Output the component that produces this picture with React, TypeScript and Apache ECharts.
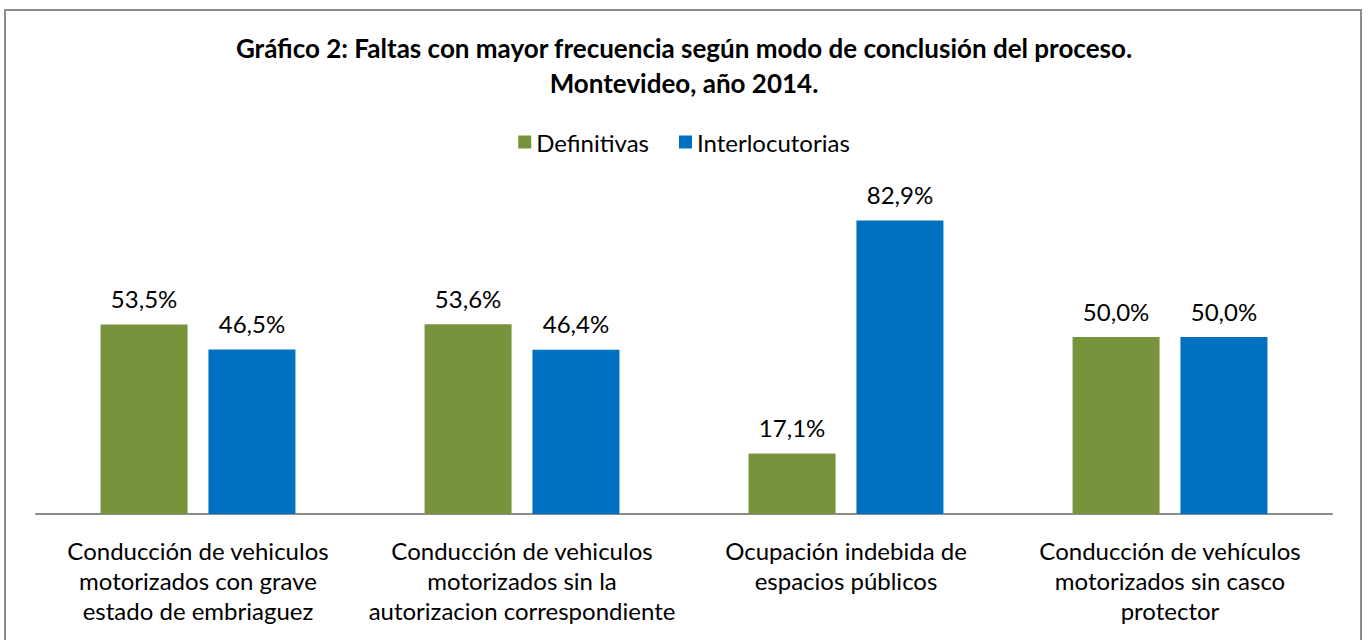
import React, { useEffect, useRef } from "react";
import * as echarts from "echarts";

const categories = [
  "Conducción de vehiculos\nmotorizados con grave\nestado de embriaguez",
  "Conducción de vehiculos\nmotorizados sin la\nautorizacion correspondiente",
  "Ocupación indebida de\nespacios públicos",
  "Conducción de vehículos\nmotorizados sin casco\nprotector",
];
const definitivas = [53.5, 53.6, 17.1, 50.0];
const interlocutorias = [46.5, 46.4, 82.9, 50.0];
const seriesNames = ["Definitivas", "Interlocutorias"];
const titleText = "Gráfico 2: Faltas con mayor frecuencia según modo de conclusión del proceso.\nMontevideo, año 2014.";

const FONT = "Lato";

export default function App() {
  const ref = useRef<HTMLDivElement>(null);
  useEffect(() => {
    if (!ref.current) return;
    const chart = echarts.init(ref.current, undefined, { renderer: "svg" });
    const fmt = (p: any) => p.value.toFixed(1).replace(".", ",") + "%";
    const labelStyle = {
      show: true,
      position: "top",
      distance: 14,
      formatter: fmt,
      fontFamily: FONT,
      fontSize: 24,
      color: "#000000",
    };
    chart.setOption({
      animation: false,
      backgroundColor: "#ffffff",
      title: {
        text: titleText,
        left: "center",
        top: 30,
        padding: 0,
        textStyle: {
          fontFamily: FONT,
          fontWeight: "bold",
          fontSize: 26,
          lineHeight: 35,
          color: "#000000",
        },
      },
      legend: {
        top: 125,
        left: "center",
        itemWidth: 13,
        itemHeight: 13,
        itemGap: 30,
        icon: "rect",
        textStyle: { fontFamily: FONT, fontSize: 24, color: "#000000" },
        data: seriesNames,
      },
      grid: { left: 36, right: 36, top: 160, bottom: 126, containLabel: false },
      xAxis: {
        type: "category",
        data: categories,
        axisLine: { lineStyle: { color: "#8c8c8c", width: 2 } },
        axisTick: { show: false },
        axisLabel: {
          interval: 0,
          margin: 21,
          fontFamily: FONT,
          fontSize: 24,
          lineHeight: 30,
          color: "#000000",
        },
      },
      yAxis: {
        type: "value",
        min: 0,
        max: 100,
        show: false,
        splitLine: { show: false },
      },
      series: [
        {
          name: seriesNames[0],
          type: "bar",
          data: definitivas,
          barWidth: 87,
          barGap: "24%",
          itemStyle: { color: "#77933C" },
          label: labelStyle,
        },
        {
          name: seriesNames[1],
          type: "bar",
          data: interlocutorias,
          barWidth: 87,
          barGap: "24%",
          itemStyle: { color: "#0070C0" },
          label: labelStyle,
        },
      ],
      graphic: [
        {
          type: "rect",
          shape: { x: 5, y: 10, width: 1356, height: 640 },
          style: { fill: "none", stroke: "#8c8c8c", lineWidth: 2 },
          silent: true,
        },
      ],
    });
    return () => chart.dispose();
  }, []);
  return (
    <div
      ref={ref}
      style={{ width: 1368, height: 640, position: "absolute", left: 0, top: 0 }}
    />
  );
}
